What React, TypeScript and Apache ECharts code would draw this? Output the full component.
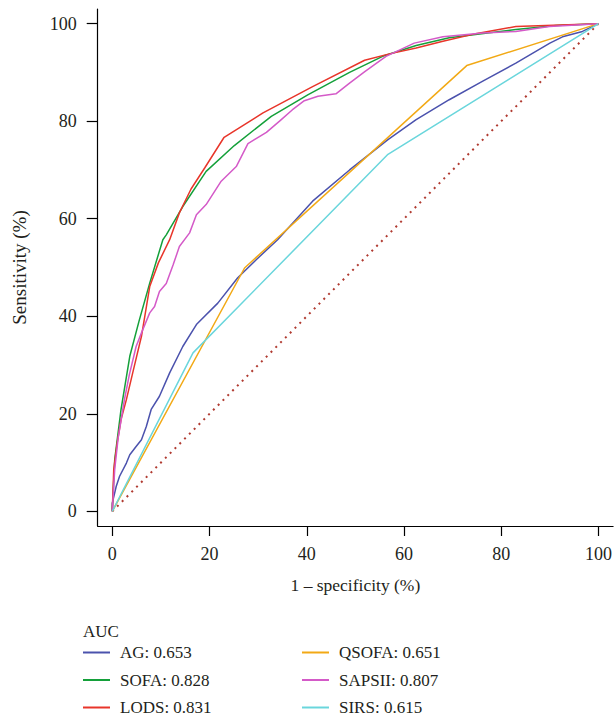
import React, { useEffect, useRef } from "react";
import * as echarts from "echarts";

const tickValues = [0, 20, 40, 60, 80, 100];

const agPoints = [[0,0],[0,1.7],[0.8,5.1],[1.5,7.2],[2.9,9.9],[3.6,11.6],[4.9,13.3],[6,14.7],[7,17.4],[8,20.9],[9.7,23.6],[11.8,28.4],[14.5,33.8],[17.3,38.3],[21.7,42.7],[25.8,47.9],[29.6,51.6],[34,55.7],[41.2,63.6],[48.8,70],[56.7,76.2],[62.5,80.3],[69.3,84.4],[76.2,88.2],[83,91.9],[90,96],[92.6,97.3],[96.7,98.4],[100,100]];
const sofaPoints = [[0,0],[0.5,10.6],[1.8,20.9],[3.6,31.8],[5.5,39],[7.7,46.8],[10.4,55.7],[11.1,56.7],[14.5,62.5],[19.3,69.7],[25.1,75],[32.7,81],[40.2,85.4],[48.8,90],[55.6,93.3],[62.5,95.5],[69.3,97.1],[83,98.8],[91.3,99.6],[100,100]];
const lodsPoints = [[0,0],[0.3,8.6],[1,14],[1.8,18.8],[2.9,22.9],[4.2,28.4],[6,35.9],[7.7,46.1],[9.5,51],[11.8,55.7],[13.8,61.2],[16.2,66.1],[19,70.4],[23,76.7],[31,81.7],[41.2,87.1],[51.9,92.5],[57,93.8],[62.5,95],[68,96.4],[75,98],[83,99.4],[100,100]];
const qsofaPoints = [[0,0],[27.2,49.9],[72.9,91.4],[100,100]];
const sapsiiPoints = [[0,0],[0.1,1.7],[0.5,8.6],[1.2,15],[2.5,22.9],[3.5,28],[4.9,33.8],[6,36.6],[7.7,40.7],[8.7,42],[9.7,45.1],[11.1,46.7],[12.5,50.5],[13.8,54.3],[15.9,57.1],[17.3,60.8],[19.3,62.9],[22.4,67.7],[25.5,70.7],[27.9,75.4],[31.7,77.7],[34.4,80],[37,82.3],[39.5,84.2],[42.3,85.1],[46,85.6],[48.8,87.8],[52,90.2],[56.3,93.3],[62.1,96],[68,97.3],[76.2,98.1],[83,98.4],[89.9,99.4],[100,100]];
const sirsPoints = [[0,0],[16.6,32.5],[56.7,73.2],[100,100]];
const referencePoints = [[0,0],[100,100]];

const seriesNames = ["AG: 0.653", "SOFA: 0.828", "LODS: 0.831", "QSOFA: 0.651", "SAPSII: 0.807", "SIRS: 0.615"];
const seriesColors = ["#4b52ad", "#14a03a", "#e8352a", "#f2a915", "#d45ac8", "#6ad6dc"];
const seriesData = [agPoints, sofaPoints, lodsPoints, qsofaPoints, sapsiiPoints, sirsPoints];

const FONT = "'Liberation Serif', 'DejaVu Serif', serif";
const TEXT = "#231f20";

export default function App() {
  const ref = useRef<HTMLDivElement>(null);
  useEffect(() => {
    if (!ref.current) return;
    const chart = echarts.init(ref.current, undefined, { renderer: "svg" });
    const legendCommon = {
      orient: "vertical" as const,
      icon: "rect",
      itemWidth: 27,
      itemHeight: 2,
      itemGap: 10.5,
      height: 90,
      selectedMode: false,
      textStyle: { fontFamily: FONT, fontSize: 17, color: TEXT, lineHeight: 17, padding: [0, 0, 0, 5] },
    };
    chart.setOption({
      animation: false,
      backgroundColor: "#ffffff",
      title: {
        text: "AUC",
        left: 78,
        top: 618,
        textStyle: { fontFamily: FONT, fontSize: 17, fontWeight: "normal", color: TEXT },
      },
      legend: [
        { ...legendCommon, left: 78, top: 639, data: seriesNames.slice(0, 3) },
        { ...legendCommon, left: 297, top: 639, data: seriesNames.slice(3, 6) },
      ],
      grid: { left: 97.7, right: 1.2, top: 9, bottom: 192, containLabel: false },
      xAxis: {
        type: "value",
        min: -3,
        max: 103,
        name: "1 – specificity (%)",
        nameLocation: "middle",
        nameGap: 50,
        nameTextStyle: { fontFamily: FONT, fontSize: 17.5, color: TEXT },
        axisLine: { show: true, onZero: false, lineStyle: { color: "#000", width: 1.2 } },
        axisTick: { show: true, length: 10, customValues: tickValues, lineStyle: { color: "#000", width: 1.2 } },
        axisLabel: { customValues: tickValues, margin: 19, fontFamily: FONT, fontSize: 18, color: TEXT },
        splitLine: { show: false },
      },
      yAxis: {
        type: "value",
        min: -3,
        max: 103,
        name: "Sensitivity (%)",
        nameLocation: "middle",
        nameGap: 69,
        nameTextStyle: { fontFamily: FONT, fontSize: 19, color: TEXT },
        axisLine: { show: true, onZero: false, lineStyle: { color: "#000", width: 1.2 } },
        axisTick: { show: true, length: 11, customValues: tickValues, lineStyle: { color: "#000", width: 1.2 } },
        axisLabel: { customValues: tickValues, margin: 21, fontFamily: FONT, fontSize: 18, color: TEXT },
        splitLine: { show: false },
      },
      series: [
        {
          name: "reference",
          type: "line",
          data: referencePoints,
          symbol: "none",
          silent: true,
          lineStyle: { color: "#b03a30", width: 2, type: [2, 4.8] },
          z: 1,
        },
        ...seriesData.map((d, i) => ({
          name: seriesNames[i],
          type: "line",
          data: d,
          symbol: "none",
          color: seriesColors[i],
          lineStyle: { color: seriesColors[i], width: 1.5 },
          z: 2 + i,
        })),
      ],
    });
    return () => chart.dispose();
  }, []);
  return (
    <div
      ref={ref}
      style={{ position: "fixed", left: 0, top: 0, width: 615, height: 718, background: "#fff" }}
    />
  );
}
